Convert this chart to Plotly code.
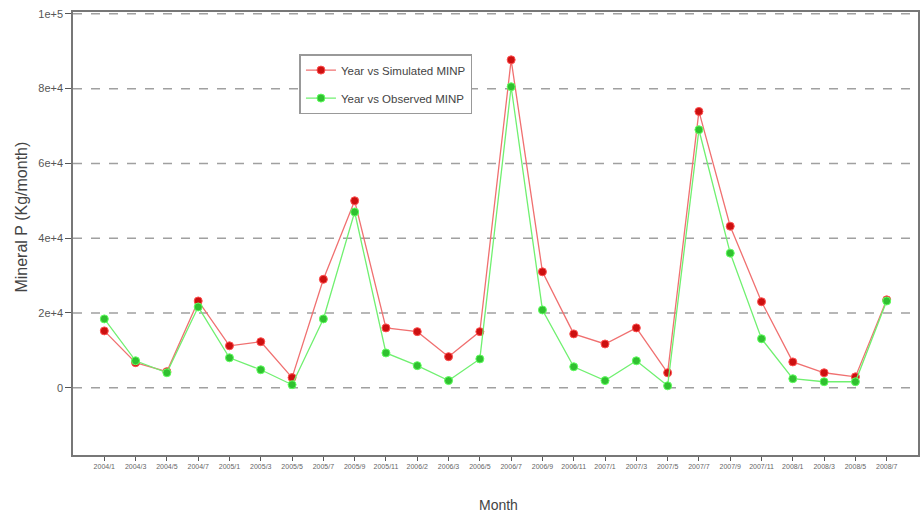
import plotly.graph_objects as go

months = ["2004/1","2004/3","2004/5","2004/7","2005/1","2005/3","2005/5","2005/7","2005/9",
          "2005/11","2006/2","2006/3","2006/5","2006/7","2006/9","2006/11","2007/1","2007/3",
          "2007/5","2007/7","2007/9","2007/11","2008/1","2008/3","2008/5","2008/7"]
simulated = [15200, 6700, 4300, 23200, 11200, 12300, 2700, 29000, 50000, 16000, 15000, 8300, 15000,
             87700, 31000, 14400, 11700, 16000, 4000, 73900, 43200, 23000, 6900, 4000, 2900, 23500]
observed = [18400, 7200, 4000, 21600, 8000, 4800, 800, 18400, 47000, 9300, 5900, 1900, 7700,
            80500, 20800, 5600, 1900, 7200, 500, 69000, 36000, 13100, 2400, 1600, 1600, 23200]
ytick_vals = [0, 20000, 40000, 60000, 80000, 100000]
ytick_text = ["0", "2e+4", "4e+4", "6e+4", "8e+4", "1e+5"]

xpos = list(range(1, len(months) + 1))

fig = go.Figure()
fig.add_trace(go.Scatter(x=xpos, y=simulated, mode="lines+markers", name="Year vs Simulated MINP",
                         legendgroup="a",
                         line=dict(color="#f07070", width=1.3),
                         marker=dict(color="#cc1010", size=8, line=dict(color="#ff5050", width=1))))
fig.add_trace(go.Scatter(x=xpos, y=observed, mode="lines+markers", name="Year vs Observed MINP",
                         legendgroup="b",
                         line=dict(color="#70f070", width=1.3),
                         marker=dict(color="#30c030", size=8, line=dict(color="#60ff60", width=1))))

for v in ytick_vals:
    fig.add_shape(type="line", xref="paper", x0=0, x1=1, yref="y", y0=v, y1=v,
                  line=dict(color="#a0a0a0", width=1.5, dash="dash"), layer="below")

fig.add_annotation(text="Month", xref="paper", yref="paper", x=0.503, y=-0.113,
                   xanchor="center", yanchor="middle", showarrow=False,
                   font=dict(size=14, color="#444444"))
fig.add_annotation(text="Mineral P (Kg/month)", xref="paper", yref="paper", x=-0.061, y=0.537,
                   xanchor="center", yanchor="middle", showarrow=False, textangle=-90,
                   font=dict(size=16, color="#444444"))

fig.update_layout(
    width=922, height=519,
    margin=dict(l=73, r=4, t=12, b=64),
    paper_bgcolor="white", plot_bgcolor="white",
    font=dict(family="Liberation Sans, Arial, sans-serif", color="#333333"),
    showlegend=True,
    legend=dict(x=0.268, y=0.905, xanchor="left", yanchor="top", bgcolor="white",
                bordercolor="#999999", borderwidth=1.5, font=dict(size=11.5, color="#444444"),
                tracegroupgap=9, itemwidth=30),
    xaxis=dict(range=[0, 27], tickmode="array", tickvals=xpos, ticktext=months,
               tickfont=dict(size=7, color="#666666"), tickangle=0,
               ticks="outside", ticklen=4, tickcolor="#555555", automargin=False,
               showgrid=False, zeroline=False, showline=True, linecolor="#777777", linewidth=1.5,
               mirror=True),
    yaxis=dict(range=[-18000, 100500], tickmode="array", tickvals=ytick_vals, ticktext=ytick_text,
               tickfont=dict(size=11, color="#555555"), ticks="outside", ticklen=6,
               tickcolor="#555555", showgrid=False, zeroline=False, showline=True, automargin=False,
               linecolor="#777777", linewidth=1.5, mirror=True),
)

fig.write_html("out.html", config={"displayModeBar": False},
               post_script="document.body.style.margin='0';document.body.style.overflow='hidden';")
